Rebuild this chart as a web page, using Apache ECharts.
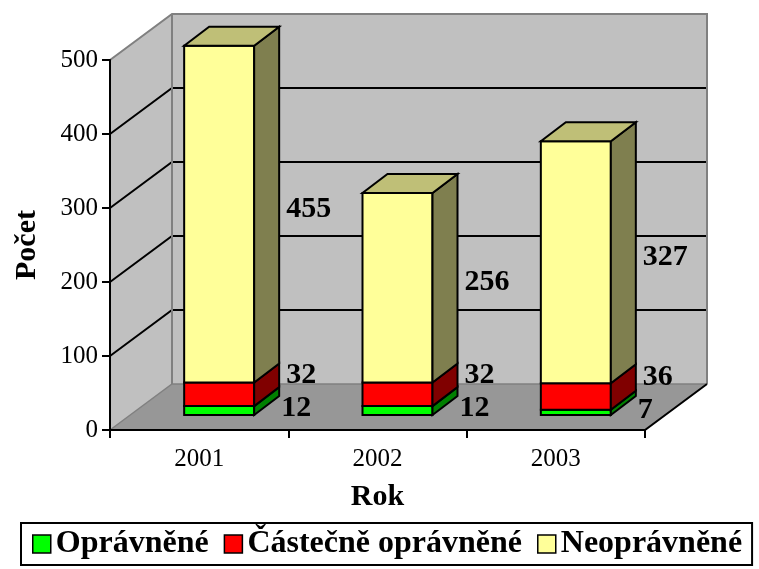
<!DOCTYPE html>
<html>
<head>
<meta charset="utf-8">
<script src="https://cdn.jsdelivr.net/npm/echarts@6/dist/echarts.min.js"></script>
<style>
html, body { margin: 0; padding: 0; background: #fff; }
#chart-area { width: 759px; height: 569px; }
</style>
</head>
<body>
<div id="chart-area"></div>
<script>
// data
var years = ['2001', '2002', '2003'];
var opravnene = [12, 12, 7];
var castecne = [32, 32, 36];
var neopravnene = [455, 256, 327];
var yTicks = [0, 100, 200, 300, 400, 500];

var FONT = 'Liberation Serif';
var DEPTH_X = 62, DEPTH_Y = -46; // hloubka steny
var FRONT_X = 20, FRONT_Y = -15; // predni strana sloupce
var BAR_DX = 25, BAR_DY = -19;   // hloubka sloupce
var BAR_W = 70;

// skladani hodnot -> [kategorie, dole, nahore]
function stackData(values, below) {
    var out = [];
    values.forEach(function(v, i) {
        var base = 0;
        below.forEach(function(arr) { base += arr[i]; });
        out.push([i, base, base + v]);
    });
    return out;
}

function poly(points, fill, stroke, lw) {
    return {
        type: 'polygon',
        shape: { points: points },
        style: { fill: fill, stroke: stroke || null, lineWidth: lw || 0, lineJoin: 'miter' }
    };
}

function line(points, color, lw) {
    return {
        type: 'polyline',
        shape: { points: points },
        style: { fill: null, stroke: color, lineWidth: lw }
    };
}

// steny, podlaha a mrizka
function renderFrame(params, api) {
    var bw = api.size([1, 0])[0];
    var x0 = api.coord([0, 0])[0] - bw / 2;
    var x1 = api.coord([years.length - 1, 0])[0] + bw / 2;
    var yb = api.coord([0, yTicks[0]])[1];
    var yt = api.coord([0, yTicks[yTicks.length - 1]])[1];
    var dx = DEPTH_X, dy = DEPTH_Y;
    var children = [];
    // leva stena
    children.push(poly([[x0, yb], [x0, yt], [x0 + dx, yt + dy], [x0 + dx, yb + dy]], '#C0C0C0'));
    // zadni stena
    children.push(poly([[x0 + dx, yt + dy], [x1 + dx, yt + dy], [x1 + dx, yb + dy], [x0 + dx, yb + dy]], '#C0C0C0'));
    // podlaha
    children.push(poly([[x0, yb], [x1, yb], [x1 + dx, yb + dy], [x0 + dx, yb + dy]], '#979797'));
    // mrizka
    for (var i = 1; i < yTicks.length - 1; i++) {
        var y = api.coord([0, yTicks[i]])[1];
        children.push(line([[x0, y], [x0 + dx, y + dy], [x1 + dx, y + dy]], '#000', 2));
    }
    // okraje sten
    children.push(line([[x0, yt], [x0 + dx, yt + dy], [x1 + dx, yt + dy], [x1 + dx, yb + dy]], '#808080', 2));
    children.push(line([[x0 + dx, yt + dy], [x0 + dx, yb + dy]], '#808080', 2));
    children.push(line([[x0, yb], [x0 + dx, yb + dy], [x1 + dx, yb + dy]], '#808080', 1.5));
    // predni hrana podlahy
    children.push(line([[x0, yb], [x1, yb], [x1 + dx, yb + dy]], '#000', 2));
    return { type: 'group', children: children };
}

function barRenderer(colors, isTop, labelDx, labelDy) {
    return function(params, api) {
        var cat = api.value(0), lo = api.value(1), hi = api.value(2);
        var p0 = api.coord([cat, lo]);
        var p1 = api.coord([cat, hi]);
        var left = p0[0] + FRONT_X - BAR_W / 2, right = left + BAR_W;
        var yb = p0[1] + FRONT_Y, yt = p1[1] + FRONT_Y;
        var bx = BAR_DX, by = BAR_DY;
        var children = [];
        children.push(poly([[left, yb], [right, yb], [right, yt], [left, yt]], colors[0], '#000', 2));
        children.push(poly([[right, yb], [right + bx, yb + by], [right + bx, yt + by], [right, yt]], colors[1], '#000', 2));
        if (isTop) {
            children.push(poly([[left, yt], [right, yt], [right + bx, yt + by], [left + bx, yt + by]], colors[2], '#000', 2));
        }
        children.push({
            type: 'text',
            x: right + bx + labelDx,
            y: (yb + yt) / 2 + by + labelDy,
            style: {
                text: String(hi - lo),
                fill: '#000',
                font: 'bold 30px ' + FONT,
                align: 'left',
                verticalAlign: 'middle'
            }
        });
        return { type: 'group', children: children };
    };
}

var chart = echarts.init(document.getElementById('chart-area'));

var option = {
    animation: false,
    grid: { left: 110, right: 114, top: 60, bottom: 139 },
    legend: {
        left: 21,
        top: 523,
        padding: [5, 10, 5, 11],
        itemWidth: 18,
        itemHeight: 18,
        itemGap: 15,
        borderColor: '#000',
        borderWidth: 2,
        icon: 'rect',
        itemStyle: { borderColor: '#000', borderWidth: 1.5 },
        textStyle: { fontFamily: FONT, fontSize: 32, fontWeight: 'bold', color: '#000' },
        data: ['Oprávněné', 'Částečně oprávněné', 'Neoprávněné']
    },
    xAxis: {
        type: 'category',
        data: years,
        z: 5,
        name: 'Rok',
        nameLocation: 'middle',
        nameGap: 52,
        nameTextStyle: { fontFamily: FONT, fontSize: 30, fontWeight: 'bold', color: '#000' },
        axisLine: { lineStyle: { color: '#000', width: 2 } },
        axisTick: { show: true, length: 8, lineStyle: { color: '#000', width: 2 } },
        axisLabel: { fontFamily: FONT, fontSize: 25, color: '#000', margin: 17 }
    },
    yAxis: {
        type: 'value',
        min: 0,
        max: 500,
        interval: 100,
        z: 5,
        name: 'Počet',
        nameLocation: 'middle',
        nameGap: 68,
        nameTextStyle: { fontFamily: FONT, fontSize: 30, fontWeight: 'bold', color: '#000' },
        splitLine: { show: false },
        axisLine: { show: true, lineStyle: { color: '#000', width: 2 } },
        axisTick: { show: true, length: 8, lineStyle: { color: '#000', width: 2 } },
        axisLabel: { fontFamily: FONT, fontSize: 25, color: '#000', margin: 12 }
    },
    series: [
        {
            type: 'custom',
            name: 'frame',
            z: 1,
            silent: true,
            renderItem: renderFrame,
            data: [[0, 0]]
        },
        {
            type: 'custom',
            name: 'Oprávněné',
            z: 2,
            itemStyle: { color: '#00FF00' },
            renderItem: barRenderer(['#00FF00', '#008000'], false, 2, 17),
            data: stackData(opravnene, [])
        },
        {
            type: 'custom',
            name: 'Částečně oprávněné',
            z: 2,
            itemStyle: { color: '#FF0000' },
            renderItem: barRenderer(['#FF0000', '#800000'], false, 7, 0),
            data: stackData(castecne, [opravnene])
        },
        {
            type: 'custom',
            name: 'Neoprávněné',
            z: 2,
            itemStyle: { color: '#FFFF99' },
            renderItem: barRenderer(['#FFFF99', '#7F7F4F', '#BFBF77'], true, 7, 14),
            data: stackData(neopravnene, [opravnene, castecne])
        }
    ]
};
chart.setOption(option);
</script>
</body>
</html>
